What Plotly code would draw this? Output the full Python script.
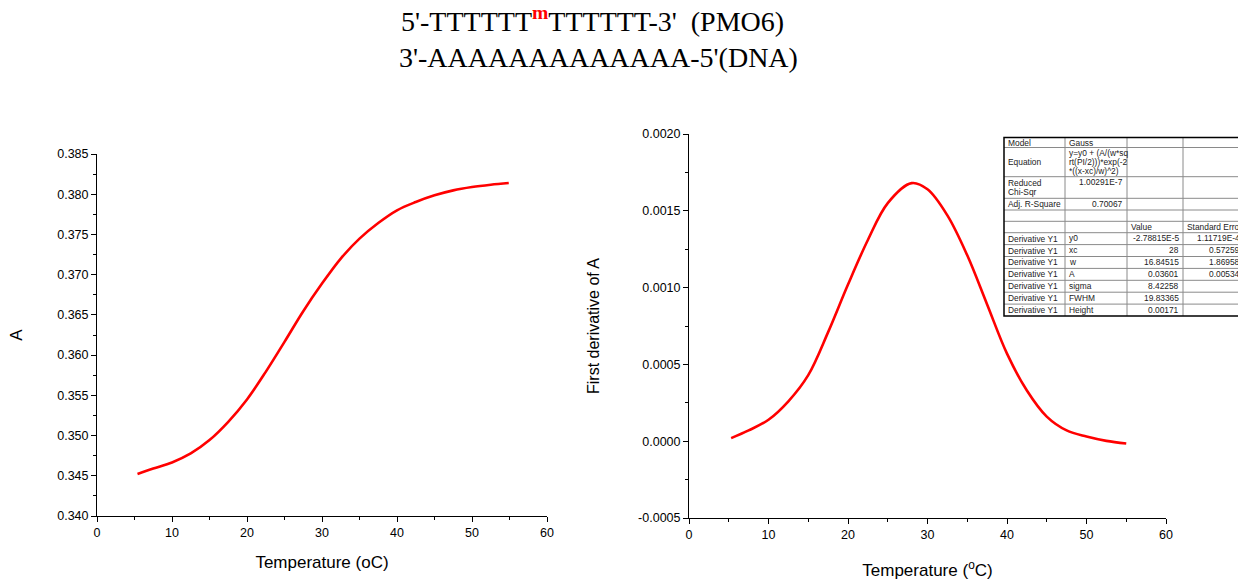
import plotly.graph_objects as go

# ---------------- data ----------------
temp_left = [5.4, 7.5, 10, 12.5, 15, 17.5, 20, 22.5, 25, 27.5, 30, 32.5, 35,
             37.5, 40, 42.5, 45, 47.5, 50, 52.5, 54.9]
absorb = [0.34522, 0.34590, 0.34666, 0.34778, 0.34944, 0.35171, 0.35449,
          0.35792, 0.36165, 0.36546, 0.36889, 0.37200, 0.37448, 0.37642,
          0.37800, 0.37903, 0.37986, 0.38048, 0.38089, 0.38118, 0.38139]

temp_right = [5.3, 7.5, 10, 12.5, 15, 17.5, 20, 22.5, 25, 28, 30, 32.5,
              35, 37.5, 40, 42.5, 45, 47.5, 50, 52.5, 55]
deriv = [0.00002, 0.00007, 0.00014, 0.00026, 0.00043, 0.00071, 0.00102,
         0.00131, 0.00155, 0.00168, 0.00164, 0.00147, 0.00121,
         0.00089, 0.00057, 0.00033, 0.00016, 0.00007, 0.00003, 0.000002, -0.000015]

x_ticks = [0, 10, 20, 30, 40, 50, 60]
yl_ticks = [0.340, 0.345, 0.350, 0.355, 0.360, 0.365, 0.370, 0.375, 0.380, 0.385]
yr_ticks = [-0.0005, 0.0, 0.0005, 0.0010, 0.0015, 0.0020]
yr_ticktext = ["-0.0005", "0.0000", "0.0005", "0.0010", "0.0015", "0.0020"]

# fit table (Origin style): one list per column
tbl_col1 = ["Model", "Equation", "Reduced<br>Chi-Sqr", "Adj. R-Square", "", ""] + ["Derivative Y1"] * 7
tbl_col2 = ["Gauss", "y=y0 + (A/(w*sq<br>rt(PI/2)))*exp(-2<br>*((x-xc)/w)^2)", "1.00291E-7",
            "0.70067", "", "", "y0", "xc", "w", "A", "sigma", "FWHM", "Height"]
tbl_col3 = ["", "", "", "", "", "Value", "-2.78815E-5", "28", "16.84515", "0.03601",
            "8.42258", "19.83365", "0.00171"]
tbl_col4 = ["", "", "", "", "", "Standard Error", "1.11719E-4", "0.57259", "1.86958",
            "0.00534", "", "", ""]

W, H = 1238, 582
SANS = "Liberation Sans, Arial, sans-serif"
SERIF = "Liberation Serif, Times New Roman, serif"

fig = go.Figure()
fig.add_trace(go.Scatter(x=temp_left, y=absorb, mode="lines",
                         line=dict(color="#ff0000", width=2.6, shape="spline", smoothing=1.0),
                         xaxis="x", yaxis="y", showlegend=False, hoverinfo="skip"))
fig.add_trace(go.Scatter(x=temp_right, y=deriv, mode="lines",
                         line=dict(color="#ff0000", width=2.6, shape="spline", smoothing=1.0),
                         xaxis="x2", yaxis="y2", showlegend=False, hoverinfo="skip"))

def px(xp):
    return xp / W

def py(yp):
    return 1 - yp / H

# ---------------- table layout (pixel geometry of the Origin table) ----------------
col_edges = [1004, 1065, 1127, 1183, 1244]
row_edges = [137.5, 147.5, 176.7, 198.3, 210, 221.3, 232.7,
             244.6, 256.5, 268.4, 280.3, 292.2, 304.1, 316]
TFONT = dict(family=SANS, size=8.4, color="#222")

shapes = []
annotations = []
for ye in row_edges[1:-1]:
    shapes.append(dict(type="line", xref="paper", yref="paper", x0=px(col_edges[0]), x1=px(col_edges[-1]),
                       y0=py(ye), y1=py(ye), line=dict(color="#8a8a8a", width=1)))
for xe in col_edges[1:-1]:
    shapes.append(dict(type="line", xref="paper", yref="paper", x0=px(xe), x1=px(xe),
                       y0=py(row_edges[0]), y1=py(row_edges[-1]), line=dict(color="#8a8a8a", width=1)))
shapes.append(dict(type="rect", xref="paper", yref="paper", x0=px(col_edges[0]), x1=px(col_edges[-1] + 10),
                   y0=py(row_edges[-1]), y1=py(row_edges[0]), line=dict(color="black", width=1.5)))

def cell_text(text, col, row, align="left", valign="middle"):
    if not text:
        return
    x0, x1 = col_edges[col], col_edges[col + 1]
    y0, y1 = row_edges[row], row_edges[row + 1]
    lines = text.split("<br>")
    n = len(lines)
    pitch = 8.8
    if valign == "middle":
        first = (y0 + y1) / 2 - pitch * (n - 1) / 2
    else:
        first = y0 + 5.5
    for i, ln in enumerate(lines):
        annotations.append(dict(
            text=ln, xref="paper", yref="paper",
            x=px(x0 + 2.5) if align == "left" else px(x1 - 3),
            xanchor=align, y=py(first + i * pitch), yanchor="middle",
            showarrow=False, font=TFONT, borderpad=0))

for r, t in enumerate(tbl_col1):
    cell_text(t, 0, r, "left", "middle")
for r, t in enumerate(tbl_col2):
    cell_text(t, 1, r, "right" if r in (2, 3) else "left", "top")
for r, t in enumerate(tbl_col3):
    cell_text(t, 2, r, "left" if r == 5 else "right", "top")
for r, t in enumerate(tbl_col4):
    cell_text(t, 3, r, "left" if r == 5 else "right", "top")

# ---------------- title ----------------
annotations += [
    dict(text="5'-TTTTTT<sup><b><span style='color:#ff0000'>m</span></b></sup>TTTTTT-3'\u00a0 (PMO6)",
         x=px(592), y=py(20), xref="paper", yref="paper", showarrow=False,
         xanchor="center", yanchor="middle", font=dict(family=SERIF, size=28, color="black")),
    dict(text="3'-AAAAAAAAAAAAA-5'(DNA)",
         x=px(598), y=py(58), xref="paper", yref="paper", showarrow=False,
         xanchor="center", yanchor="middle", font=dict(family=SERIF, size=28, color="black")),
]

def axis_common(**kw):
    d = dict(showline=True, linecolor="black", linewidth=1, ticks="outside", ticklen=5,
             tickcolor="black", tickwidth=1, showgrid=False, zeroline=False, automargin=False,
             tickfont=dict(family=SANS, size=12.5, color="black"))
    d.update(kw)
    return d

minor = lambda dt: dict(ticks="outside", ticklen=3, tickcolor="black", dtick=dt, showgrid=False)

fig.update_layout(
    width=W, height=H,
    margin=dict(l=0, r=0, t=0, b=0),
    paper_bgcolor="white", plot_bgcolor="white",
    xaxis=axis_common(domain=[px(97), px(547)], range=[0, 60], tickvals=x_ticks,
                      minor=minor(5), anchor="y",
                      title=dict(text="Temperature (oC)", font=dict(family=SANS, size=17, color="black"), standoff=17)),
    yaxis=axis_common(domain=[py(516), py(154)], range=[0.340, 0.385], tickvals=yl_ticks,
                      tickformat=".3f", minor=minor(0.0025), anchor="x",
                      title=dict(text="A", font=dict(family=SANS, size=17, color="black"), standoff=30)),
    xaxis2=axis_common(domain=[px(689), px(1166)], range=[0, 60], tickvals=x_ticks,
                       minor=minor(5), anchor="y2",
                       title=dict(text="Temperature (<sup>o</sup>C)", font=dict(family=SANS, size=17, color="black"), standoff=23)),
    yaxis2=axis_common(domain=[py(518), py(134)], range=[-0.0005, 0.0020], tickvals=yr_ticks,
                       ticktext=yr_ticktext, minor=minor(0.00025), anchor="x2",
                       title=dict(text="First derivative of A", font=dict(family=SANS, size=16, color="black"), standoff=34)),
    annotations=annotations,
    shapes=shapes,
)

fig.write_html("out.html", config={"displayModeBar": False},
               post_script="document.body.style.margin='0px';document.body.style.overflow='hidden';")
